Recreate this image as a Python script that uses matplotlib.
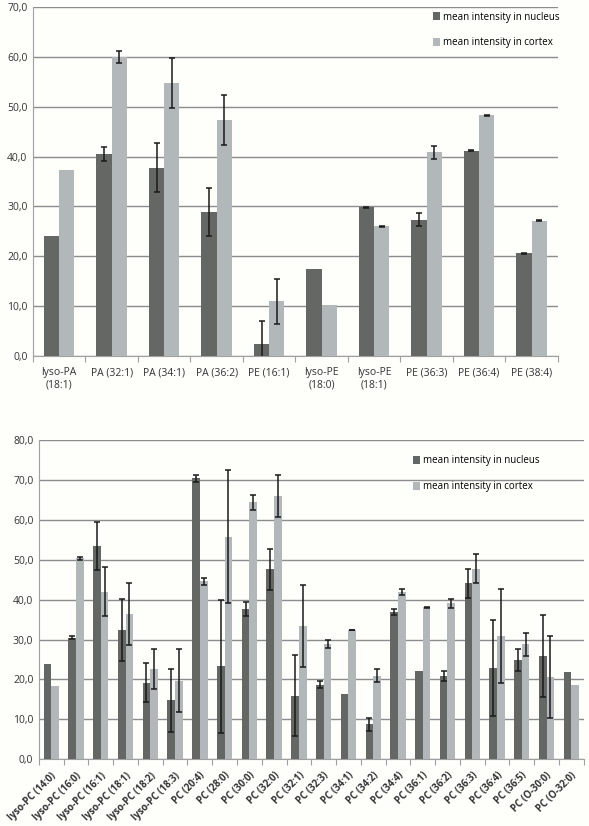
import numpy as np
import matplotlib
matplotlib.use("Agg")
import matplotlib.pyplot as plt

plt.rcParams['font.family'] = ['Open Sans', 'DejaVu Sans']

# top panel data (nan = no error bar)
top_labels = ["lyso-PA\n(18:1)", "PA (32:1)", "PA (34:1)", "PA (36:2)", "PE (16:1)",
              "lyso-PE\n(18:0)", "lyso-PE\n(18:1)", "PE (36:3)", "PE (36:4)", "PE (38:4)"]
top_nucleus = [24.0, 40.6, 37.8, 28.8, 2.5, 17.5, 29.8, 27.3, 41.2, 20.6]
top_nucleus_err = [np.nan, 1.4, 5.0, 4.8, 4.6, np.nan, 0.1, 1.3, 0.1, 0.1]
top_cortex = [37.4, 60.0, 54.8, 47.4, 11.0, 10.3, 26.0, 40.9, 48.3, 27.1]
top_cortex_err = [np.nan, 1.2, 5.0, 5.0, 4.5, np.nan, 0.1, 1.3, 0.1, 0.1]

# bottom panel data
bot_labels = ["lyso-PC (14:0)", "lyso-PC (16:0)", "lyso-PC (16:1)", "lyso-PC (18:1)",
              "lyso-PC (18:2)", "lyso-PC (18:3)", "PC (20:4)", "PC (28:0)", "PC (30:0)",
              "PC (32:0)", "PC (32:1)", "PC (32:3)", "PC (34:1)", "PC (34:2)", "PC (34:4)",
              "PC (36:1)", "PC (36:2)", "PC (36:3)", "PC (36:4)", "PC (36:5)",
              "PC (O-30:0)", "PC (O-32:0)"]
bot_nucleus = [23.9, 30.5, 53.5, 32.4, 19.2, 14.8, 70.5, 23.3, 37.6, 47.6, 15.9, 18.7,
               16.4, 8.7, 36.9, 22.1, 20.9, 44.1, 22.8, 24.9, 25.9, 21.9]
bot_nucleus_err = [np.nan, 0.4, 6.1, 7.8, 4.9, 7.9, 0.9, 16.7, 1.7, 5.2, 10.2, 0.9,
                   np.nan, 1.6, 0.8, np.nan, 1.2, 3.7, 12.0, 2.7, 10.2, np.nan]
bot_cortex = [18.3, 50.4, 42.0, 36.4, 22.6, 19.7, 44.6, 55.8, 64.4, 66.0, 33.3, 28.9,
              32.4, 20.9, 42.0, 38.1, 39.1, 47.8, 30.9, 28.8, 20.5, 18.6]
bot_cortex_err = [np.nan, 0.4, 6.2, 7.8, 4.9, 7.9, 0.9, 16.7, 1.9, 5.2, 10.3, 0.9,
                  0.1, 1.6, 0.8, 0.1, 1.1, 3.6, 11.9, 2.9, 10.3, np.nan]

dark = '#646764'
light = '#b2b7ba'
grid_c = '#8c8c8c'
bg = '#fefefb'

fig = plt.figure(figsize=(5.89, 8.26), dpi=100, facecolor=bg)


def draw(ax, labels, nuc, nuc_err, cor, cor_err, ymax, width, rotate):
    x = np.arange(len(labels))
    ax.set_facecolor(bg)
    ax.bar(x - width / 2, nuc, width, color=dark, label='mean intensity in nucleus', zorder=3)
    ax.bar(x + width / 2, cor, width, color=light, label='mean intensity in cortex', zorder=3)
    ekw = dict(fmt='none', ecolor='#1a1a1a', elinewidth=1.1, capsize=2.2, capthick=1.1, zorder=4)
    ax.errorbar(x - width / 2, nuc, yerr=nuc_err, **ekw)
    ax.errorbar(x + width / 2, cor, yerr=cor_err, **ekw)
    ax.set_xlim(-0.5, len(labels) - 0.5)
    ax.set_ylim(0, ymax)
    ticks = np.arange(0, ymax + 1, 10)
    ax.set_yticks(ticks)
    ax.set_yticklabels([f"{t:.1f}".replace('.', ',') for t in ticks], fontsize=7.5, color='#333333')
    ax.yaxis.grid(True, color=grid_c, linewidth=1.0, zorder=0)
    ax.tick_params(axis='y', length=0, pad=4)
    for s in ['top', 'right']:
        ax.spines[s].set_visible(False)
    ax.spines['left'].set_color('#a0a0a0')
    ax.spines['bottom'].set_color('#a0a0a0')
    ax.set_xticks(np.arange(len(labels) + 1) - 0.5, minor=False)
    ax.set_xticklabels([])
    ax.tick_params(axis='x', length=4, color='#a0a0a0', direction='out')
    ax.set_xticks(x, minor=True)
    if rotate:
        ax.set_xticklabels(labels, minor=True, rotation=45, ha='right', rotation_mode='anchor',
                           fontsize=7, fontweight='bold', color='#333333')
    else:
        ax.set_xticklabels(labels, minor=True, fontsize=7.5, color='#333333')
    ax.tick_params(axis='x', which='minor', length=0, pad=8)


ax1 = fig.add_axes([0.056, 0.569, 0.891, 0.4225])
draw(ax1, top_labels, top_nucleus, top_nucleus_err, top_cortex, top_cortex_err, 70, 0.29, False)
ax1.legend(loc='upper left', bbox_to_anchor=(0.745, 1.012), frameon=False, fontsize=7,
           handlelength=0.8, handleheight=0.8, handletextpad=0.3, labelspacing=1.5)

ax2 = fig.add_axes([0.066, 0.081, 0.925, 0.386])
draw(ax2, bot_labels, bot_nucleus, bot_nucleus_err, bot_cortex, bot_cortex_err, 80, 0.31, True)
ax2.legend(loc='upper left', bbox_to_anchor=(0.67, 0.98), frameon=False, fontsize=7,
           handlelength=0.8, handleheight=0.8, handletextpad=0.3, labelspacing=1.55)

fig.savefig('out.png', dpi=100, facecolor=bg)
